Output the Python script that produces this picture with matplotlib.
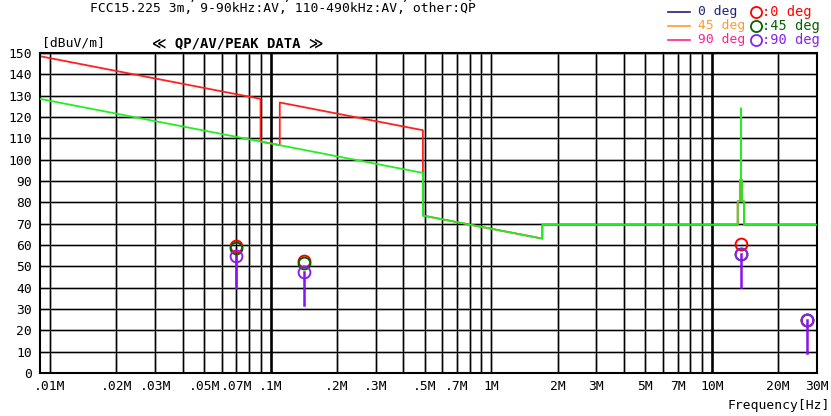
import matplotlib
matplotlib.use("Agg")
import matplotlib.pyplot as plt
from matplotlib.ticker import FixedLocator, NullLocator

plt.rcParams['font.family'] = ['DejaVu Sans Mono', 'DejaVu Sans']

# ---- data ----
# Peak limit (red) breakpoints: frequency [Hz], level [dBuV/m]
pk_freq = [9e3, 90e3, 90e3, 110e3, 110e3, 490e3, 490e3, 1.705e6, 1.705e6,
           13.11e6, 13.11e6, 13.41e6, 13.41e6, 13.553e6, 13.553e6, 13.567e6,
           13.567e6, 13.71e6, 13.71e6, 14.01e6, 14.01e6, 30e6]
pk_level = [148.5, 128.5, 108.5, 106.8, 126.8, 113.8, 73.8, 63.0, 69.5,
            69.5, 80.5, 80.5, 90.5, 90.5, 124.0, 124.0,
            90.5, 90.5, 80.5, 80.5, 69.5, 69.5]
# Average limit (green) breakpoints
av_freq = [9e3, 490e3, 490e3, 1.705e6, 1.705e6,
           13.11e6, 13.11e6, 13.41e6, 13.41e6, 13.553e6, 13.553e6, 13.567e6,
           13.567e6, 13.71e6, 13.71e6, 14.01e6, 14.01e6, 30e6]
av_level = [128.5, 93.8, 73.8, 63.0, 69.5,
            69.5, 80.5, 80.5, 90.5, 90.5, 124.0, 124.0,
            90.5, 90.5, 80.5, 80.5, 69.5, 69.5]

# Measured points
meas_freq = [70e3, 141.5e3, 13.56e6, 27.12e6]
qp_0deg = [59.7, 52.6, 60.6, 24.8]
qp_45deg = [58.4, 51.4, 55.8, 24.8]
qp_90deg = [54.8, 47.2, 55.8, 24.8]
line_bottom = [39.7, 31.9, 40.2, 9.2]

y_ticks = list(range(0, 151, 10))
x_tick_vals = [1e4, 2e4, 3e4, 5e4, 7e4, 1e5, 2e5, 3e5, 5e5, 7e5, 1e6,
               2e6, 3e6, 5e6, 7e6, 1e7, 2e7, 3e7]
x_tick_labels = ['.01M', '.02M', '.03M', '.05M', '.07M', '.1M', '.2M', '.3M',
                 '.5M', '.7M', '1M', '2M', '3M', '5M', '7M', '10M', '20M', '30M']

# ---- figure ----
W, H = 831, 416
FS = 9.4
fig = plt.figure(figsize=(W / 100, H / 100), dpi=100)
ax = fig.add_axes([40 / W, 43 / H, 777 / W, 320 / H])
ax.set_xscale('log')
ax.set_xlim(9e3, 30e6)
ax.set_ylim(0, 150)

# grid
for v in y_ticks:
    ax.axhline(v, color='#b4b4b4', lw=2.0, zorder=0.5)
    ax.axhline(v, color='#000000', lw=0.8, zorder=0.6)
grid_x = []
for dec in [1e4, 1e5, 1e6, 1e7]:
    for m in range(1, 10):
        f = dec * m
        if 9e3 <= f <= 30e6:
            grid_x.append(f)
for f in grid_x:
    if f in (1e5, 1e7):
        ax.axvline(f, color='#000000', lw=1.9, zorder=0.7)
    else:
        ax.axvline(f, color='#a8a8a8', lw=2.0, zorder=0.5)
        ax.axvline(f, color='#000000', lw=0.8, zorder=0.6)

# limits
ax.plot(pk_freq, pk_level, color='#ff2020', lw=1.3, zorder=2)
ax.plot(av_freq, av_level, color='#22ee22', lw=1.3, zorder=3)

# measurement vertical lines
for f, t, b in zip(meas_freq, qp_90deg, line_bottom):
    ax.plot([f, f], [t, b], color='#8a10f0', lw=1.8, zorder=4)

ms = 8.5
ax.plot(meas_freq, qp_0deg, 'o', mfc='none', mec='#ff0000', mew=1.4, ms=ms, zorder=5)
ax.plot(meas_freq, qp_45deg, 'o', mfc='none', mec='#006400', mew=1.4, ms=ms, zorder=6)
ax.plot(meas_freq, qp_90deg, 'o', mfc='none', mec='#8a20f0', mew=1.4, ms=ms, zorder=7)

# axes styling
for s in ax.spines.values():
    s.set_linewidth(1.5)
    s.set_color('black')
ax.xaxis.set_major_locator(FixedLocator(x_tick_vals))
ax.xaxis.set_minor_locator(NullLocator())
ax.set_xticklabels(x_tick_labels)
ax.set_yticks(y_ticks)
ax.tick_params(axis='both', length=0, labelsize=FS, colors='black')
ax.tick_params(axis='x', pad=5)
ax.tick_params(axis='y', pad=6)

# texts
fig.text(90 / W, 1 - 8 / H, 'FCC15.225 3m, 9-90kHz:AV, 110-490kHz:AV, other:QP',
         fontsize=FS, ha='left', va='center')
fig.text(0 / W, 1 + 4 / H, 'Limit:      FCC15.225 3m, 9-90kHz:PK, 110-490kHz:PK, other:QP',
         fontsize=FS, ha='left', va='center')
fig.text(42 / W, 1 - 43 / H, '[dBuV/m]', fontsize=FS, ha='left', va='center')
fig.text(152 / W, 1 - 43 / H, '≪ QP/AV/PEAK DATA ≫', fontsize=FS + 0.6,
         fontweight='bold', ha='left', va='center')
fig.text(830 / W, 1 - 406 / H, 'Frequency[Hz]', fontsize=FS, ha='right', va='center')

# legend
leg_lines = [('0 deg', '#202080', 12), ('45 deg', '#ff9a30', 26), ('90 deg', '#ff2090', 40)]
for lab, c, y in leg_lines:
    fig.add_artist(plt.Line2D([668 / W, 690 / W], [1 - y / H, 1 - y / H], color=c, lw=1.2))
    fig.text(698 / W, 1 - y / H, lab, color=c, fontsize=FS, ha='left', va='center')
leg_circ = [(':0 deg', '#ff0000', 12), (':45 deg', '#006400', 26), (':90 deg', '#8a20f0', 40)]
for lab, c, y in leg_circ:
    fig.add_artist(plt.Line2D([756 / W], [1 - y / H], marker='o', mfc='none', mec=c,
                              mew=1.3, ms=8))
    fig.text(762 / W, 1 - y / H, lab, color=c, fontsize=FS + 0.4, ha='left', va='center')

fig.savefig('out.png', dpi=100)
